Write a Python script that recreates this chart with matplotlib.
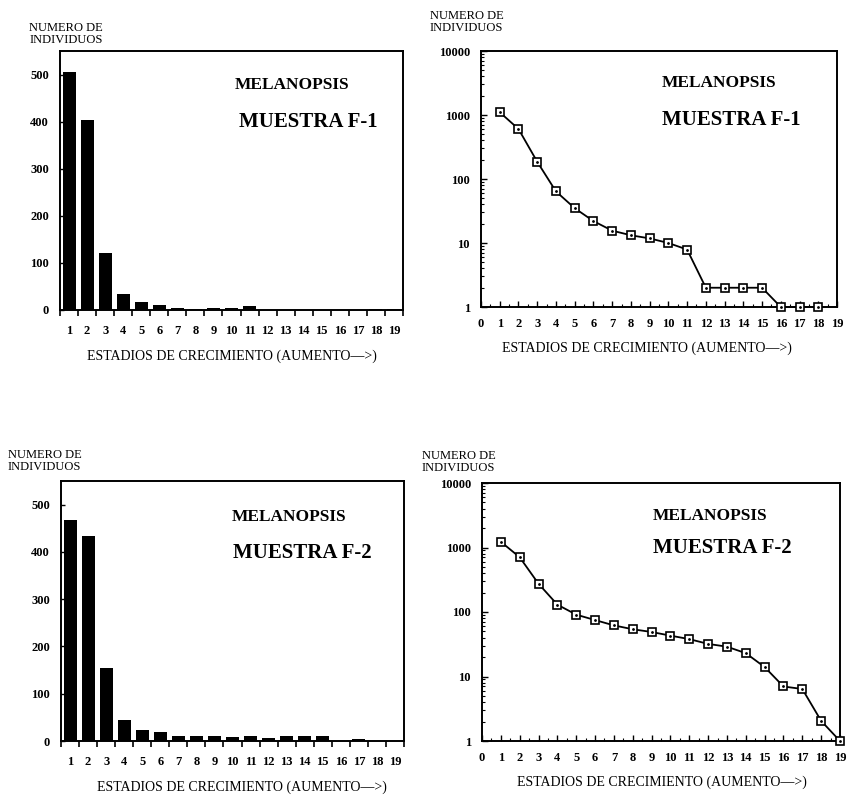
import matplotlib
matplotlib.use("Agg")
import matplotlib.pyplot as plt
import numpy as np
from matplotlib.ticker import FixedLocator, NullFormatter, LogLocator

plt.rcParams['font.family'] = ['Liberation Serif', 'DejaVu Serif']

# ---------------- data ----------------
stages = list(range(1, 20))
bars_f1 = [505, 403, 120, 35, 18, 10, 5, 2, 5, 5, 8, 1, 1, 1, 1, 1, 1, 2, 2]
bars_f2 = [467, 433, 155, 44, 24, 20, 11, 11, 11, 8, 11, 7, 11, 11, 11, 0, 5, 0, 0]

log_x_f1 = list(range(1, 19))
log_f1 = [1104, 605, 186, 64, 35, 22, 15.6, 13.2, 11.8, 10, 7.9, 2, 2, 2, 2, 1, 1, 1]
log_x_f2 = list(range(1, 20))
log_f2 = [1227, 706, 274, 130, 91, 75, 62, 54, 49, 43, 38, 32, 29, 23, 14, 7, 6.4, 2.05, 1]

bar_yticks = [0, 100, 200, 300, 400, 500]
log_yticks = [1, 10, 100, 1000, 10000]
log_xticks = list(range(0, 20))

ylabel_text = "NUMERO DE\nINDIVIDUOS"
xlabel_text = "ESTADIOS DE CRECIMIENTO (AUMENTO\u2014>)"
title1 = "MELANOPSIS"
samples = ["MUESTRA F-1", "MUESTRA F-2"]

W, H = 849, 795
fig = plt.figure(figsize=(W / 100, H / 100), dpi=100)


def ax_px(left, top, right, bottom):
    return fig.add_axes([left / W, 1 - bottom / H, (right - left) / W, (bottom - top) / H])


def ftext(x, y, s, **kw):
    fig.text(x / W, 1 - y / H, s, **kw)


tickfont = dict(fontsize=9, fontweight='bold')


def bar_panel(box, values):
    ax = ax_px(*box)
    ax.bar(stages, values, width=0.72, color='black')
    ax.set_xlim(0.5, 19.5)
    ax.set_ylim(0, 550)
    ax.set_xticks(stages)
    ax.set_xticklabels([str(s) for s in stages], **tickfont)
    ax.xaxis.set_minor_locator(FixedLocator(np.arange(0.5, 20, 1.0)))
    ax.tick_params(axis='x', which='major', length=0, pad=11)
    ax.tick_params(axis='x', which='minor', direction='out', length=4, width=1.2)
    ax.set_yticks(bar_yticks)
    ax.set_yticklabels([str(v) for v in bar_yticks], **tickfont)
    ax.tick_params(axis='y', direction='in', length=3, width=1, pad=8)
    for sp in ax.spines.values():
        sp.set_linewidth(1.4)
    return ax


def log_panel(box, xs, ys):
    ax = ax_px(*box)
    ax.plot(xs, ys, color='black', lw=1.3, marker='s', ms=6, mfc='white',
            mec='black', mew=1.2, clip_on=False, zorder=3)
    ax.plot(xs, ys, ls='none', marker='.', ms=2, color='black', clip_on=False, zorder=4)
    ax.set_yscale('log')
    ax.set_xlim(0, 19)
    ax.set_ylim(1, 10000)
    ax.set_yticks(log_yticks)
    ax.set_yticklabels([str(v) for v in log_yticks], **tickfont)
    ax.yaxis.set_minor_locator(LogLocator(base=10, subs=np.arange(2, 10)))
    ax.yaxis.set_minor_formatter(NullFormatter())
    ax.tick_params(axis='y', which='major', direction='in', length=4, width=1, pad=8)
    ax.tick_params(axis='y', which='minor', direction='in', length=2.5, width=0.8)
    ax.set_xticks(log_xticks)
    ax.set_xticklabels([str(v) for v in log_xticks], **tickfont)
    ax.xaxis.set_minor_locator(FixedLocator(np.arange(0.5, 19, 1.0)))
    ax.tick_params(axis='x', which='major', direction='in', length=4, width=1, pad=8)
    ax.tick_params(axis='x', which='minor', direction='in', length=2, width=0.8)
    for sp in ax.spines.values():
        sp.set_linewidth(1.4)
    return ax


bar_panel((60, 51, 403, 310), bars_f1)
log_panel((481, 51, 837, 307), log_x_f1, log_f1)
bar_panel((61, 481, 404, 741), bars_f2)
log_panel((482, 483, 840, 741), log_x_f2, log_f2)

ylab = dict(fontsize=9, linespacing=1.05, va='center')
ftext(66, 34, ylabel_text, ha='center', **ylab)
ftext(430, 22, ylabel_text, ha='left', **ylab)
ftext(8, 461, ylabel_text, ha='left', **ylab)
ftext(422, 462, ylabel_text, ha='left', **ylab)

xlab = dict(fontsize=10, ha='center', va='center')
ftext(232, 356, xlabel_text, **xlab)
ftext(647, 348, xlabel_text, **xlab)
ftext(242, 787, xlabel_text, **xlab)
ftext(662, 782, xlabel_text, **xlab)

t1 = dict(fontsize=12.5, fontweight='bold', ha='left', va='center')
t2 = dict(fontsize=15, fontweight='bold', ha='left', va='center')
ftext(235, 85, title1, **t1)
ftext(239, 122, samples[0], **t2)
ftext(662, 83, title1, **t1)
ftext(662, 120, samples[0], **t2)
ftext(232, 517, title1, **t1)
ftext(233, 553, samples[1], **t2)
ftext(653, 516, title1, **t1)
ftext(653, 548, samples[1], **t2)

fig.savefig("out.png", dpi=100, facecolor='white')
